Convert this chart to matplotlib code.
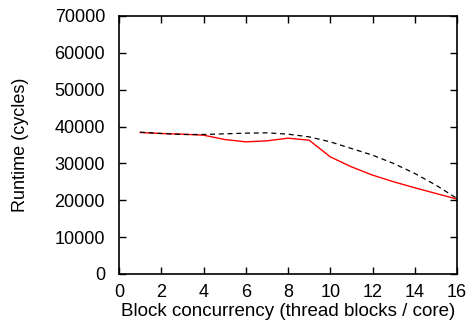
import numpy as np
import matplotlib
matplotlib.use("Agg")
import matplotlib.pyplot as plt

plt.rcParams['font.family'] = ['Liberation Sans', 'DejaVu Sans']

# data
blocks = [1, 2, 3, 4, 5, 6, 7, 8, 9, 10, 11, 12, 13, 14, 15, 16]
runtime_red = [38390, 38120, 37940, 37670, 36490, 35860, 36130, 36850,
               36310, 31790, 29080, 26830, 25020, 23390, 21860, 20320]
runtime_dash = [38480, 38120, 37850, 37850, 38030, 38210, 38300, 37940,
                37210, 35860, 34050, 32250, 29990, 27280, 24120, 20500]

fig = plt.figure(figsize=(4.71, 3.33), dpi=100)
ax = fig.add_axes([119/471, 1 - 274/333, (457-119)/471, (274-16)/333])

ax.plot(blocks, runtime_red, color='red', lw=1.0)
ax.plot(blocks, runtime_dash, color='black', lw=0.9, ls=(0, (4, 3)))

ax.set_xlim(0, 16)
ax.set_ylim(0, 70000)
ax.set_xticks(range(0, 17, 2))
ax.set_yticks(range(0, 70001, 10000))
ax.tick_params(direction='in', top=True, right=True, length=5, width=1,
               labelsize=13)
ax.tick_params(axis='x', pad=7)
ax.tick_params(axis='y', pad=10)
for s in ax.spines.values():
    s.set_linewidth(1.2)

ax.set_xlabel('Block concurrency (thread blocks / core)', fontsize=13.5,
              va='center')
ax.set_ylabel('Runtime (cycles)', fontsize=13, va='center')
ax.xaxis.set_label_coords(0.5, -0.145)
ax.yaxis.set_label_coords(-0.29, 0.5)

fig.savefig('out.png', dpi=100)
